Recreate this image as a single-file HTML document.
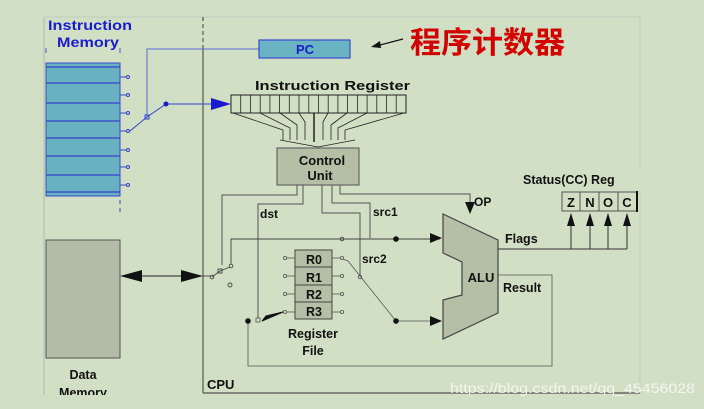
<!DOCTYPE html>
<html><head><meta charset="utf-8"><style>
html,body{margin:0;padding:0;background:#d1dfc5;}
svg{display:block;font-family:"Liberation Sans",Arial,sans-serif;font-weight:bold;}
</style></head><body>
<svg width="704" height="409" viewBox="0 0 704 409">
<rect width="704" height="409" fill="#d1dfc5"/>
<line x1="44" y1="17" x2="44" y2="395" stroke="#b8c8b8" stroke-width="1.5"/>
<line x1="44" y1="17" x2="640" y2="17" stroke="#c0cfbf" stroke-width="1"/>
<line x1="640" y1="17" x2="640" y2="393" stroke="#c0cfbf" stroke-width="1"/>
<line x1="203" y1="17" x2="203" y2="45" stroke="#555" stroke-width="1.2" stroke-dasharray="4,3"/>
<line x1="203" y1="45" x2="203" y2="393" stroke="#555" stroke-width="1.2"/>
<line x1="203" y1="393" x2="640" y2="393" stroke="#555" stroke-width="1.2"/>
<text x="207" y="389" font-size="13" fill="#111">CPU</text>
<text x="48" y="30" font-size="13.5" fill="#1a1ad0" textLength="84" lengthAdjust="spacingAndGlyphs">Instruction</text>
<text x="57" y="47" font-size="13.5" fill="#1a1ad0" textLength="62" lengthAdjust="spacingAndGlyphs">Memory</text>
<line x1="46" y1="48" x2="46" y2="53" stroke="#4a5ad0"/><line x1="120" y1="48" x2="120" y2="53" stroke="#4a5ad0"/>
<rect x="46" y="63" width="74" height="133" fill="#67b1c2" stroke="#3a4ad0" stroke-width="1"/>
<g stroke="#3344cc" stroke-width="1.2">
<line x1="46" y1="67" x2="120" y2="67"/><line x1="46" y1="83" x2="120" y2="83"/><line x1="46" y1="103" x2="120" y2="103"/><line x1="46" y1="121" x2="120" y2="121"/><line x1="46" y1="138" x2="120" y2="138"/><line x1="46" y1="156" x2="120" y2="156"/><line x1="46" y1="175" x2="120" y2="175"/><line x1="46" y1="192" x2="120" y2="192"/>
</g>
<g stroke="#3344cc" fill="none" stroke-width="1">
<line x1="120" y1="77" x2="127" y2="77"/><circle cx="128" cy="77" r="1.5"/>
<line x1="120" y1="95" x2="127" y2="95"/><circle cx="128" cy="95" r="1.5"/>
<line x1="120" y1="113" x2="127" y2="113"/><circle cx="128" cy="113" r="1.5"/>
<line x1="120" y1="131" x2="127" y2="131"/><circle cx="128" cy="131" r="1.5"/>
<line x1="120" y1="150" x2="127" y2="150"/><circle cx="128" cy="150" r="1.5"/>
<line x1="120" y1="167" x2="127" y2="167"/><circle cx="128" cy="167" r="1.5"/>
<line x1="120" y1="185" x2="127" y2="185"/><circle cx="128" cy="185" r="1.5"/>
<line x1="120" y1="200" x2="120" y2="214" stroke-dasharray="4,4"/>
<polyline points="130,131 147,117 166,104 215,104"/>
<polyline points="147,117 147,49 259,49" stroke="#5a6ad8"/>
<rect x="145" y="115" width="4" height="4"/>
</g>
<circle cx="166" cy="104" r="2.5" fill="#1a1ad0"/>
<path d="M211,98 L231,104 L211,110 Z" fill="#1a1ad0"/>
<rect x="259" y="40" width="91" height="18" fill="#6ab3c3" stroke="#3a4ad0" stroke-width="1.2"/>
<text x="305" y="54" font-size="13" fill="#1a1ad0" text-anchor="middle">PC</text>
<line x1="403" y1="39" x2="376" y2="46" stroke="#111" stroke-width="1.2"/>
<path d="M371,47 L380,41 L381,48 Z" fill="#111"/>
<text x="410" y="53" font-size="30" fill="#d40000" font-family="'Liberation Sans','Noto Sans CJK SC',sans-serif" textLength="155" lengthAdjust="spacingAndGlyphs">程序计数器</text>
<text x="255" y="90" font-size="12.5" fill="#111" textLength="155" lengthAdjust="spacingAndGlyphs">Instruction Register</text>
<rect x="231" y="95" width="175" height="18" fill="none" stroke="#222" stroke-width="1"/>
<g stroke="#222" stroke-width="0.8" fill="none">
<line x1="240.7" y1="95" x2="240.7" y2="113"/><line x1="250.4" y1="95" x2="250.4" y2="113"/><line x1="260.2" y1="95" x2="260.2" y2="113"/><line x1="269.9" y1="95" x2="269.9" y2="113"/><line x1="279.6" y1="95" x2="279.6" y2="113"/><line x1="289.3" y1="95" x2="289.3" y2="113"/><line x1="299" y1="95" x2="299" y2="113"/><line x1="308.8" y1="95" x2="308.8" y2="113"/><line x1="318.5" y1="95" x2="318.5" y2="113"/><line x1="328.2" y1="95" x2="328.2" y2="113"/><line x1="337.9" y1="95" x2="337.9" y2="113"/><line x1="347.6" y1="95" x2="347.6" y2="113"/><line x1="357.4" y1="95" x2="357.4" y2="113"/><line x1="367.1" y1="95" x2="367.1" y2="113"/><line x1="376.8" y1="95" x2="376.8" y2="113"/><line x1="386.5" y1="95" x2="386.5" y2="113"/><line x1="396.2" y1="95" x2="396.2" y2="113"/>
<polyline points="233,113 283,130 283,140"/>
<polyline points="260,113 290,128 290,140"/>
<polyline points="280,113 297,125 297,140"/>
<polyline points="299,113 305,122 305,140"/>
<line x1="314" y1="113" x2="314" y2="142" stroke-width="1.5"/>
<polyline points="328,113 323,122 323,140"/>
<polyline points="347,113 331,125 331,140"/>
<polyline points="367,113 338,128 338,140"/>
<polyline points="404,113 345,130 345,140"/>
<polyline points="280,140 318,147 355,140"/>
</g>
<rect x="277" y="148" width="82" height="37" fill="#b4bfa6" stroke="#666" stroke-width="1.2"/>
<text x="322" y="165" font-size="13" fill="#111" text-anchor="middle">Control</text>
<text x="320" y="180" font-size="13" fill="#111" text-anchor="middle">Unit</text>
<g stroke="#555" stroke-width="1" fill="none">
<polyline points="297,185 297,195 222,195 222,265"/>
<polyline points="303,185 303,204 258,204 258,318"/>
<polyline points="322,185 322,213 360,213 360,277"/>
<polyline points="332,185 332,203 370,203 370,238"/>
<polyline points="340,185 340,194 470,194 470,204"/>
</g>
<path d="M465,202 L475,202 L470,214 Z" fill="#111"/>
<text x="474" y="206" font-size="12" fill="#111">OP</text>
<text x="260" y="218" font-size="12" fill="#111">dst</text>
<text x="373" y="216" font-size="12" fill="#111">src1</text>
<text x="362" y="263" font-size="12" fill="#111">src2</text>
<rect x="46" y="240" width="74" height="118" fill="#b3bca6" stroke="#555" stroke-width="1"/>
<text x="83" y="379" font-size="12.5" fill="#111" text-anchor="middle">Data</text>
<text x="83" y="397" font-size="12.5" fill="#111" text-anchor="middle">Memory</text>
<rect x="0" y="395" width="200" height="14" fill="#d1dfc5"/>
<line x1="128" y1="276" x2="195" y2="276" stroke="#222"/>
<path d="M120,276 L142,270 L142,282 Z" fill="#111"/>
<path d="M203,276 L181,270 L181,282 Z" fill="#111"/>
<g stroke="#444" fill="none" stroke-width="0.9">
<line x1="203" y1="276" x2="211" y2="276"/>
<circle cx="212" cy="277" r="1.8"/>
<polyline points="212,277 220,271 230,267"/>
<rect x="218" y="269" width="4" height="4"/>
<circle cx="231" cy="266" r="1.8"/>
<circle cx="230" cy="285" r="2"/>
<polyline points="231,264 231,239 440,239"/>
<circle cx="342" cy="239" r="1.8"/>
</g>
<circle cx="396" cy="239" r="2.8" fill="#111"/>
<path d="M430,233 L442,238 L430,243 Z" fill="#111"/>
<rect x="295" y="250" width="37" height="69" fill="#b4bfa6" stroke="#444" stroke-width="1"/>
<g stroke="#444" stroke-width="1"><line x1="295" y1="267" x2="332" y2="267"/><line x1="295" y1="285" x2="332" y2="285"/><line x1="295" y1="302" x2="332" y2="302"/></g>
<g font-size="12.5" fill="#111" text-anchor="middle"><text x="314" y="264">R0</text><text x="314" y="282">R1</text><text x="314" y="299">R2</text><text x="314" y="316">R3</text></g>
<g stroke="#555" fill="none" stroke-width="0.8">
<line x1="287" y1="258" x2="295" y2="258"/><circle cx="285" cy="258" r="1.6"/>
<line x1="287" y1="276" x2="295" y2="276"/><circle cx="285" cy="276" r="1.6"/>
<line x1="287" y1="294" x2="295" y2="294"/><circle cx="285" cy="294" r="1.6"/>
<line x1="287" y1="312" x2="295" y2="312"/><circle cx="285" cy="312" r="1.6"/>
<line x1="332" y1="258" x2="340" y2="258"/><circle cx="342" cy="258" r="1.6"/>
<line x1="332" y1="276" x2="340" y2="276"/><circle cx="342" cy="276" r="1.6"/>
<line x1="332" y1="294" x2="340" y2="294"/><circle cx="342" cy="294" r="1.6"/>
<line x1="332" y1="312" x2="340" y2="312"/><circle cx="342" cy="312" r="1.6"/>
<polyline points="343,259 348,261 396,321 440,321"/>
<circle cx="360" cy="277" r="1.8"/>
<rect x="256" y="318" width="4" height="4"/>
<polyline points="248,321 248,366 552,366 552,275 498,275"/>
</g>
<circle cx="248" cy="321" r="2.8" fill="#111"/>
<path d="M262,321 L283,312 L266,316 Z" fill="#111" stroke="#111"/>
<circle cx="396" cy="321" r="2.8" fill="#111"/>
<path d="M430,316 L442,321 L430,326 Z" fill="#111"/>
<text x="313" y="338" font-size="12.5" fill="#111" text-anchor="middle">Register</text>
<text x="313" y="355" font-size="12.5" fill="#111" text-anchor="middle">File</text>
<polygon points="443,214 498,240 498,313 443,339 443,300 462,295 462,262 443,253" fill="#b4bfa6" stroke="#444" stroke-width="1.2"/>
<text x="481" y="282" font-size="13" fill="#111" text-anchor="middle">ALU</text>
<text x="505" y="243" font-size="12.5" fill="#111">Flags</text>
<text x="503" y="292" font-size="12.5" fill="#111">Result</text>
<g stroke="#333" stroke-width="1" fill="none">
<line x1="498" y1="249" x2="627" y2="249"/>
<line x1="571" y1="249" x2="571" y2="222"/><line x1="590" y1="249" x2="590" y2="222"/><line x1="608" y1="249" x2="608" y2="222"/><line x1="627" y1="249" x2="627" y2="222"/>
</g>
<g fill="#111"><path d="M567,226 L571,213 L575,226 Z"/><path d="M586,226 L590,213 L594,226 Z"/><path d="M604,226 L608,213 L612,226 Z"/><path d="M623,226 L627,213 L631,226 Z"/></g>
<text x="523" y="184" font-size="12.5" fill="#111">Status(CC) Reg</text>
<rect x="639" y="170" width="65" height="20" fill="#d1dfc5"/>
<rect x="562" y="192" width="75" height="19" fill="#d1dfc5" stroke="#555" stroke-width="1"/>
<g stroke="#555"><line x1="580" y1="192" x2="580" y2="211"/><line x1="599" y1="192" x2="599" y2="211"/><line x1="618" y1="192" x2="618" y2="211"/></g>
<line x1="637" y1="191" x2="637" y2="212" stroke="#111" stroke-width="2"/>
<g font-size="13" fill="#111" text-anchor="middle"><text x="571" y="207">Z</text><text x="590" y="207">N</text><text x="608" y="207">O</text><text x="627" y="207">C</text></g>
<text x="450" y="393" font-size="14" fill="#f4f6f0" font-weight="normal" textLength="245" lengthAdjust="spacingAndGlyphs">https://blog.csdn.net/qq_45456028</text>
</svg>
</body></html>
